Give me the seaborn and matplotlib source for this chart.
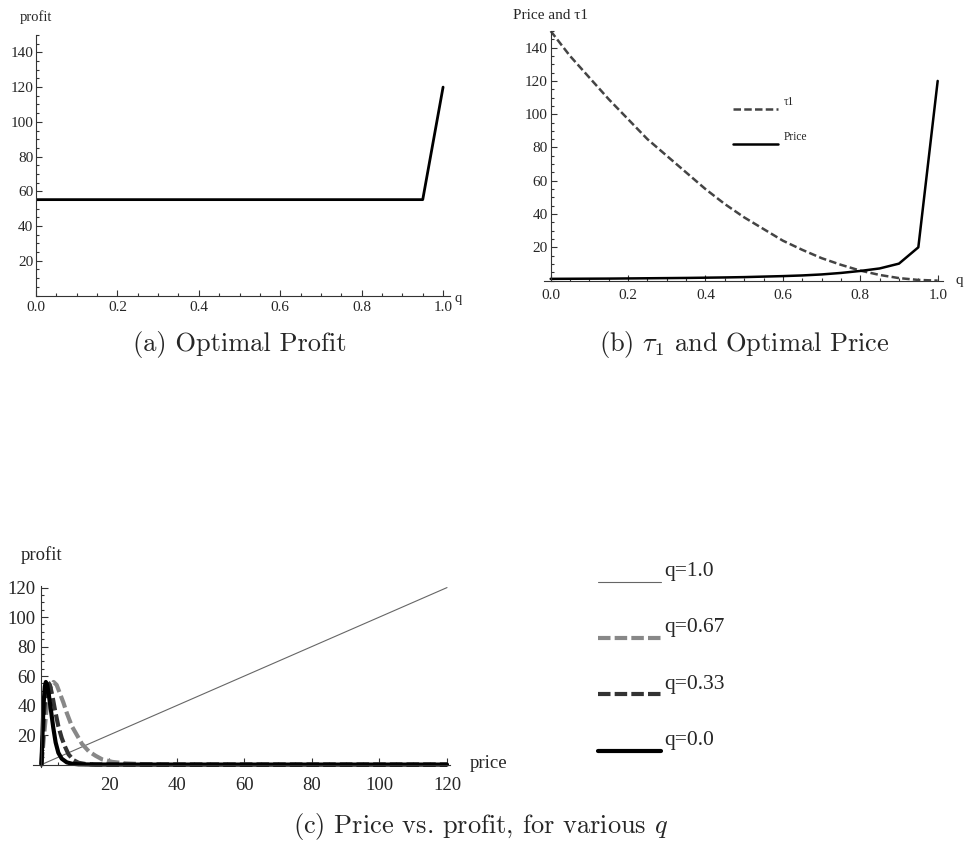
import matplotlib
matplotlib.use("Agg")
import matplotlib.pyplot as plt
from matplotlib.ticker import MultipleLocator
import seaborn as sns

# (a) optimal profit against q
q_grid = [0.0, 0.05, 0.1, 0.15, 0.2, 0.25, 0.3, 0.35, 0.4, 0.45, 0.5,
          0.55, 0.6, 0.65, 0.7, 0.75, 0.8, 0.85, 0.9, 0.95, 1.0]
opt_profit = [55.2, 55.2, 55.2, 55.2, 55.2, 55.2, 55.2, 55.2, 55.2, 55.2, 55.2,
              55.2, 55.2, 55.2, 55.2, 55.2, 55.2, 55.2, 55.2, 55.2, 120.0]

# (b) tau1 and optimal price against q
tau1 = [150, 135, 122, 109, 97, 85, 75, 65, 55, 46, 38,
        31, 24, 18.5, 13.5, 9.5, 6, 3.4, 1.5, 0.4, 0]
opt_price = [1.05, 1.1, 1.15, 1.2, 1.3, 1.4, 1.5, 1.6, 1.75, 1.9, 2.1,
             2.4, 2.7, 3.1, 3.7, 4.6, 5.8, 7.3, 10.2, 20.0, 120.0]

# (c) profit against price for several q
price_q100 = [0, 120]
profit_q100 = [0, 120]
price_q067 = [0, 0.7, 1.4, 2.2, 3.0, 3.6, 4.5, 5.5, 6.5, 7.5, 9, 10.5, 12,
              14, 16, 18, 21, 25, 30, 40, 60, 120]
profit_q067 = [0, 18, 35, 48, 54, 56, 54, 48, 42, 35, 26, 20, 14,
               9, 6, 3.5, 1.8, 0.8, 0.3, 0, 0, 0]
price_q033 = [0, 0.4, 0.8, 1.3, 1.9, 2.5, 3.2, 4, 5, 6, 7, 8, 9.5, 11, 13,
              16, 30, 60, 120]
profit_q033 = [0, 18, 36, 50, 56, 54, 47, 37, 26, 18, 12, 7, 3, 1.2, 0.4,
               0.1, 0, 0, 0]
price_q000 = [0, 0.3, 0.6, 1.0, 1.3, 1.7, 2.2, 2.8, 3.5, 4.2, 5, 6, 7.5, 9,
              11, 15, 30, 60, 120]
profit_q000 = [0, 20, 40, 53, 56, 54, 47, 37, 25, 15, 8, 4, 1.5, 0.6,
               0.2, 0.05, 0, 0, 0]
legend_c = ["q=1.0", "q=0.67", "q=0.33", "q=0.0"]

sns.set_style("ticks")
plt.rcParams["font.family"] = ["Liberation Serif", "DejaVu Serif"]
plt.rcParams["mathtext.fontset"] = "cm"

W, H = 964, 850
fig = plt.figure(figsize=(W / 100, H / 100), dpi=100)


def frame(ax, tick_size, maj=4, mino=2):
    for s in ["top", "right"]:
        ax.spines[s].set_visible(False)
    for s in ["left", "bottom"]:
        ax.spines[s].set_color("#333333")
        ax.spines[s].set_linewidth(0.8)
    ax.tick_params(which="both", direction="in", color="#333333", width=0.8,
                   labelsize=tick_size)
    ax.tick_params(which="major", length=maj)
    ax.tick_params(which="minor", length=mino)


# ---- (a)
ax1 = fig.add_axes([36 / W, 1 - 295.5 / H, 414 / W, 260.5 / H])
sns.lineplot(x=q_grid, y=opt_profit, ax=ax1, color="black", lw=2, errorbar=None)
ax1.set_xlim(0, 1.017)
ax1.set_ylim(0, 150)
ax1.set_xticks([0.0, 0.2, 0.4, 0.6, 0.8, 1.0])
ax1.set_yticks([20, 40, 60, 80, 100, 120, 140])
ax1.xaxis.set_minor_locator(MultipleLocator(0.05))
ax1.yaxis.set_minor_locator(MultipleLocator(5))
frame(ax1, 11)
ax1.tick_params(axis="x", pad=4)
ax1.tick_params(axis="y", pad=2)
ax1.set_ylabel("profit", rotation=0, fontsize=10.5, ha="center", va="center")
ax1.yaxis.set_label_coords(0.0, 1.069)
ax1.set_xlabel("q", fontsize=10.5, ha="left", va="center")
ax1.xaxis.set_label_coords(1.012, -0.01)

# ---- (b)
ax2 = fig.add_axes([543.7 / W, 1 - 280.6 / H, 399.4 / W, 249.6 / H])
sns.lineplot(x=q_grid, y=tau1, ax=ax2, color="#444444", lw=1.8,
             linestyle=(0, (3, 1.3)), errorbar=None)
sns.lineplot(x=q_grid, y=opt_price, ax=ax2, color="black", lw=1.8, errorbar=None)
ax2.set_xlim(-0.018, 1.014)
ax2.set_ylim(0, 150)
ax2.spines["left"].set_position(("data", 0))
ax2.set_xticks([0.0, 0.2, 0.4, 0.6, 0.8, 1.0])
ax2.set_xticklabels(["0.0", "0.2", "0.4", "0.6", "0.8", "1.0"])
ax2.set_yticks([20, 40, 60, 80, 100, 120, 140])
ax2.xaxis.set_minor_locator(MultipleLocator(0.05))
ax2.yaxis.set_minor_locator(MultipleLocator(5))
frame(ax2, 11)
ax2.tick_params(axis="x", pad=6)
ax2.tick_params(axis="y", pad=2)
ax2.set_ylabel("Price and \u03c41", rotation=0, fontsize=11, ha="center", va="center")
ax2.yaxis.set_label_coords(0.017, 1.064)
ax2.set_xlabel("q", fontsize=11, ha="left", va="center")
ax2.xaxis.set_label_coords(1.03, 0.0)
ax2.legend(handles=ax2.lines[:2], labels=["\u03c41\n", "Price\n"],
           loc="upper left", bbox_to_anchor=(733 / W, 1 - 96 / H),
           bbox_transform=fig.transFigure, frameon=False, fontsize=8.3,
           handlelength=3.9, handletextpad=0.5, labelspacing=0.8,
           borderpad=0, borderaxespad=0)

# ---- (c)
ax3 = fig.add_axes([33 / W, 1 - 766.8 / H, 417.4 / W, 180.7 / H])
sns.lineplot(x=price_q100, y=profit_q100, ax=ax3, color="#666666", lw=0.8,
             errorbar=None)
sns.lineplot(x=price_q067, y=profit_q067, ax=ax3, color="#888888", lw=3,
             linestyle=(0, (3, 1)), errorbar=None)
sns.lineplot(x=price_q033, y=profit_q033, ax=ax3, color="#333333", lw=3,
             linestyle=(0, (3, 1)), errorbar=None)
sns.lineplot(x=price_q000, y=profit_q000, ax=ax3, color="black", lw=3,
             errorbar=None)
ax3.set_xlim(-2.5, 121)
ax3.set_ylim(-1.5, 121)
ax3.spines["left"].set_position(("data", 0))
ax3.spines["bottom"].set_position(("data", 0))
ax3.set_xticks([20, 40, 60, 80, 100, 120])
ax3.set_yticks([20, 40, 60, 80, 100, 120])
ax3.xaxis.set_minor_locator(MultipleLocator(5))
ax3.yaxis.set_minor_locator(MultipleLocator(5))
frame(ax3, 13.5, maj=5, mino=2.5)
ax3.tick_params(axis="x", pad=9)
ax3.tick_params(axis="y", pad=4)
ax3.set_ylabel("profit", rotation=0, fontsize=13.5, ha="center", va="center")
ax3.yaxis.set_label_coords(0.02, 1.172)
ax3.set_xlabel("price", fontsize=13.5, ha="left", va="center")
ax3.xaxis.set_label_coords(1.047, 0.021)
ax3.legend(handles=ax3.lines[:4], labels=[s + "\n" for s in legend_c],
           loc="upper left", bbox_to_anchor=(598 / W, 1 - 562 / H),
           bbox_transform=fig.transFigure, frameon=False, fontsize=15.5,
           handlelength=2.93, handletextpad=0.15, labelspacing=0.72,
           borderpad=0, borderaxespad=0)

# captions
cap = dict(fontfamily="cmr10", fontsize=19, ha="center", va="center")
fig.text(240 / W, 1 - 345 / H, "(a) Optimal Profit", **cap)
fig.text(744 / W, 1 - 345 / H, r"(b) $\tau_1$ and Optimal Price", **cap)
fig.text(481 / W, 1 - 826 / H, r"(c) Price vs. profit, for various $q$", **cap)

fig.savefig("out.png", dpi=100)
